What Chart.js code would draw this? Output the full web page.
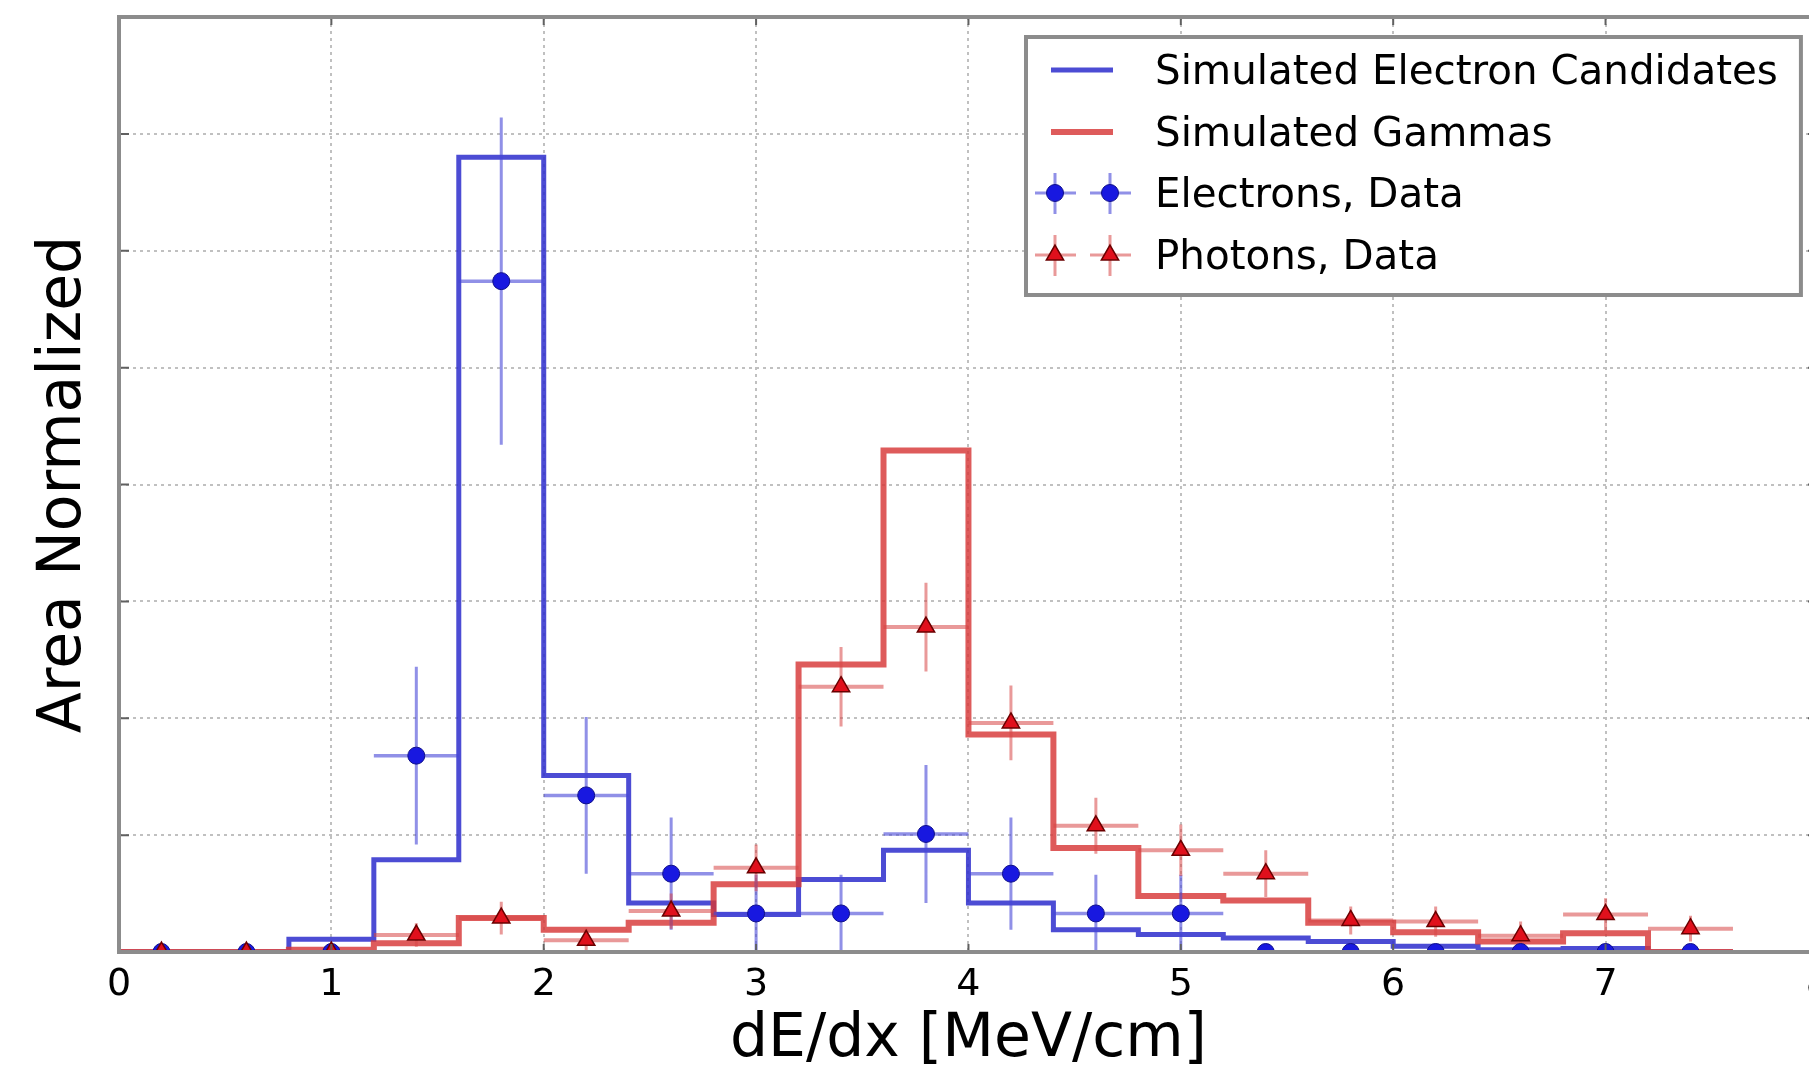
<!DOCTYPE html>
<html>
<head>
<meta charset="utf-8">
<script src="https://cdn.jsdelivr.net/npm/chart.js@4/dist/chart.umd.min.js"></script>
<style>
html,body{margin:0;padding:0;overflow:hidden;background:#fff;width:1809px;height:1066px;}
#wrap{position:absolute;left:0;top:0;width:1840px;height:1100px;}
</style>
</head>
<body>
<div id="wrap"><canvas id="c" width="1840" height="1100"></canvas></div>
<script>
// ---- data ----
const binEdges = [0,0.4,0.8,1.2,1.6,2.0,2.4,2.8,3.2,3.6,4.0,4.4,4.8,5.2,5.6,6.0,6.4,6.8,7.2,7.6];
const binCenters = [0.2,0.6,1.0,1.4,1.8,2.2,2.6,3.0,3.4,3.8,4.2,4.6,5.0,5.4,5.8,6.2,6.6,7.0,7.4];
const simElectron = [0,0,0.022,0.158,1.36,0.302,0.084,0.064,0.124,0.174,0.084,0.038,0.03,0.024,0.018,0.01,0.004,0.006,0];
const simGamma    = [0,0,0.004,0.015,0.058,0.038,0.05,0.116,0.492,0.858,0.372,0.178,0.096,0.088,0.05,0.034,0.018,0.032,0];
const electronData = [0,0,0,0.336,1.148,0.268,0.134,0.066,0.066,0.202,0.134,0.066,0.066,0,0,0,0,0,0];
const electronErr  = [0,0,0,0.152,0.28,0.134,0.096,0.066,0.066,0.118,0.096,0.066,0.066,0,0,0,0,0,0];
const photonData = [0,0,0,0.029,0.058,0.02,0.07,0.144,0.454,0.556,0.392,0.216,0.174,0.134,0.054,0.052,0.028,0.064,0.04];
const photonErr  = [0,0,0,0.02,0.028,0.02,0.03,0.04,0.068,0.076,0.064,0.048,0.044,0.04,0.024,0.026,0.024,0.028,0.022];
const xTicks = [0,1,2,3,4,5,6,7,8];
const yGridStep = 0.2;
const yMax = 1.6;
const legendLabels = ['Simulated Electron Candidates','Simulated Gammas','Electrons, Data','Photons, Data'];
const xTitle = 'dE/dx [MeV/cm]';
const yTitle = 'Area Normalized';

// ---- styles ----
const FONT = "'DejaVu Sans', 'Bitstream Vera Sans', sans-serif";
const blueHist = 'rgba(45,45,205,0.85)';
const redHist = 'rgba(215,55,55,0.82)';
const blueErr = 'rgba(70,70,215,0.6)';
const redErr = 'rgba(215,70,70,0.55)';
const blueMark = '#1818e0';
const blueMarkEdge = '#10108a';
const redMark = '#e0101c';
const redMarkEdge = '#6a0000';

// ---- helpers building library data from the arrays ----
function stepData(vals){
  return binEdges.map((e,i)=>({x:e, y: i < vals.length ? vals[i] : 0}));
}
function vErr(vals, errs){
  const out=[];
  binCenters.forEach((c,i)=>{ out.push({x:c,y:vals[i]-errs[i]},{x:c,y:vals[i]+errs[i]},{x:c,y:null}); });
  return out;
}
function hErr(vals){
  const out=[];
  binCenters.forEach((c,i)=>{ out.push({x:binEdges[i],y:vals[i]},{x:binEdges[i+1],y:vals[i]},{x:binEdges[i+1],y:null}); });
  return out;
}
function pts(vals){ return binCenters.map((c,i)=>({x:c,y:vals[i]})); }

const lineBase = {type:'line', pointRadius:0, pointHoverRadius:0, fill:false, spanGaps:false, tension:0};

const datasets = [
  Object.assign({}, lineBase, {label:'photon markers', data:pts(photonData), showLine:false, pointStyle:'triangle', pointRadius:10, pointBackgroundColor:redMark, pointBorderColor:redMarkEdge, pointBorderWidth:1.5, order:1, clip:0}),
  Object.assign({}, lineBase, {label:'electron markers', data:pts(electronData), showLine:false, pointStyle:'circle', pointRadius:8.5, pointBackgroundColor:blueMark, pointBorderColor:blueMarkEdge, pointBorderWidth:1, order:2, clip:0}),
  Object.assign({}, lineBase, {label:'photon yerr', data:vErr(photonData, photonErr), borderColor:redErr, borderWidth:3, order:3}),
  Object.assign({}, lineBase, {label:'photon xerr', data:hErr(photonData), borderColor:redErr, borderWidth:4, order:3}),
  Object.assign({}, lineBase, {label:'electron yerr', data:vErr(electronData, electronErr), borderColor:blueErr, borderWidth:3, order:4}),
  Object.assign({}, lineBase, {label:'electron xerr', data:hErr(electronData), borderColor:blueErr, borderWidth:3.5, order:4}),
  Object.assign({}, lineBase, {label:legendLabels[1], data:stepData(simGamma), stepped:'before', borderColor:redHist, borderWidth:6, order:5}),
  Object.assign({}, lineBase, {label:legendLabels[0], data:stepData(simElectron), stepped:'before', borderColor:blueHist, borderWidth:5, order:6})
];

const framePlugin = {
  id:'frame',
  afterDatasetsDraw(chart){
    const {ctx, chartArea:{left,right,top,bottom}, scales:{x,y}} = chart;
    ctx.save();
    ctx.strokeStyle = '#606060'; ctx.lineWidth = 2;
    ctx.beginPath();
    y.ticks.forEach(t=>{ const py=y.getPixelForValue(t.value); ctx.moveTo(left,py); ctx.lineTo(left+10,py); ctx.moveTo(right,py); ctx.lineTo(right-10,py); });
    x.ticks.forEach(t=>{ const px=x.getPixelForValue(t.value); ctx.moveTo(px,bottom); ctx.lineTo(px,bottom-8); ctx.moveTo(px,top); ctx.lineTo(px,top+8); });
    ctx.stroke();
    ctx.strokeStyle = '#8c8c8c'; ctx.lineWidth = 4;
    ctx.strokeRect(left, top, right-left, bottom-top);
    ctx.restore();
  }
};

function drawCircle(ctx,x,y,r,fill,edge){ ctx.beginPath(); ctx.arc(x,y,r,0,Math.PI*2); ctx.fillStyle=fill; ctx.fill(); ctx.lineWidth=1; ctx.strokeStyle=edge; ctx.stroke(); }
function drawTri(ctx,x,y,r,fill,edge){ ctx.beginPath(); for(let k=0;k<3;k++){ const a=-Math.PI/2+k*2*Math.PI/3; const px=x+Math.cos(a)*r, py=y+Math.sin(a)*r; if(k===0) ctx.moveTo(px,py); else ctx.lineTo(px,py);} ctx.closePath(); ctx.fillStyle=fill; ctx.fill(); ctx.lineWidth=1.5; ctx.strokeStyle=edge; ctx.stroke(); }

const legendPlugin = {
  id:'boxLegend',
  afterDraw(chart){
    const {ctx, chartArea} = chart;
    const bRight = chartArea.right - 17, bTop = chartArea.top + 20;
    const bLeft = 1026, bBottom = bTop + 258;
    ctx.save();
    ctx.fillStyle='#fff';
    ctx.fillRect(bLeft,bTop,bRight-bLeft,bBottom-bTop);
    ctx.strokeStyle='#8c8c8c'; ctx.lineWidth=4;
    ctx.strokeRect(bLeft,bTop,bRight-bLeft,bBottom-bTop);
    const rows = [33,95,156,218].map(v=>bTop+v);
    ctx.lineWidth=5; ctx.strokeStyle=blueHist;
    ctx.beginPath(); ctx.moveTo(bLeft+25,rows[0]); ctx.lineTo(bLeft+87,rows[0]); ctx.stroke();
    ctx.lineWidth=6; ctx.strokeStyle=redHist;
    ctx.beginPath(); ctx.moveTo(bLeft+25,rows[1]); ctx.lineTo(bLeft+87,rows[1]); ctx.stroke();
    [[rows[2],blueErr,blueMark,blueMarkEdge,'c'],[rows[3],redErr,redMark,redMarkEdge,'t']].forEach(([ry,ec,fc,edc,kind])=>{
      [bLeft+29,bLeft+84].forEach(mx=>{
        ctx.strokeStyle=ec; ctx.lineWidth=3;
        ctx.beginPath(); ctx.moveTo(mx-20,ry); ctx.lineTo(mx+21,ry); ctx.moveTo(mx,ry-20); ctx.lineTo(mx,ry+21); ctx.stroke();
        if(kind==='c') drawCircle(ctx,mx,ry,8.5,fc,edc); else drawTri(ctx,mx,ry,10,fc,edc);
      });
    });
    ctx.fillStyle='#000'; ctx.font='41px '+FONT; ctx.textBaseline='middle'; ctx.textAlign='left';
    legendLabels.forEach((t,i)=>{ const w = ctx.measureText(t).width; ctx.fillText(t,bLeft+129,rows[i]+3, w*0.985); });
    ctx.restore();
  }
};

const gridCfg = {color:'#c0c0c0', lineWidth:2, drawTicks:false};

new Chart(document.getElementById('c').getContext('2d'), {
  type:'line',
  data:{datasets},
  options:{
    responsive:false, animation:false, devicePixelRatio:1,
    layout:{padding:{left:0,top:17,right:22,bottom:0}},
    plugins:{legend:{display:false}, tooltip:{enabled:false}},
    events:[],
    scales:{
      x:{type:'linear', min:xTicks[0], max:xTicks[xTicks.length-1],
         afterBuildTicks:s=>{ s.ticks = xTicks.map(v=>({value:v})); },
         ticks:{font:{family:FONT,size:38}, color:'#000', padding:10, maxRotation:0, autoSkip:false, callback:v=>String(v)},
         grid:gridCfg, border:{display:false, dash:[3,4]},
         title:{display:true, text:xTitle, color:'#000', font:{family:FONT,size:60}, padding:{top:0,bottom:24}},
         afterFit:s=>{ s.height = 148; }},
      y:{type:'linear', min:0, max:yMax,
         ticks:{stepSize:yGridStep, display:false},
         grid:gridCfg, border:{display:false, dash:[3,4]},
         title:{display:true, text:yTitle, color:'#000', font:{family:FONT,size:60}, padding:{top:28,bottom:0}},
         afterFit:s=>{ s.width = 119; }}
    }
  },
  plugins:[framePlugin, legendPlugin]
});
</script>
</body>
</html>
